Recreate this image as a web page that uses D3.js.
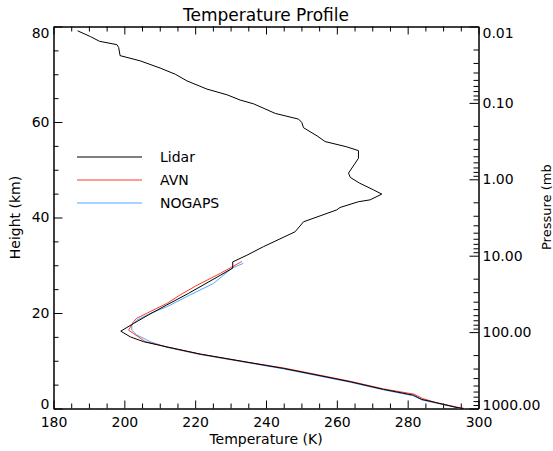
<!DOCTYPE html>
<html>
<head>
<meta charset="utf-8">
<script src="https://cdn.jsdelivr.net/npm/d3@7"></script>
<style>
  body { margin: 0; background: #fff; }
  svg text { font-family: "DejaVu Sans", sans-serif; fill: #000; }
</style>
</head>
<body>
<div id="chart"></div>
<script>
// temperature (K) vs height (km)
let lidarT = [186.8, 190.4, 193.0, 197.9, 198.4, 198.8, 204.5, 210.1, 214.4, 217.7, 223.3, 229.0, 232.7, 236.5, 242.6, 249.2, 250.1, 250.6, 254.4, 256.7, 262.8, 266.1, 266.1, 263.3, 263.8, 266.4, 270.3, 272.7, 269.4, 266.1, 260.9, 260.0, 250.6, 248.2, 239.3, 234.6, 230.6, 230.6, 227.1, 218.1, 212.0, 206.8, 202.6, 199.0, 201.7, 205.4, 212.0, 221.4, 235.5, 244.9, 254.4, 263.8, 273.2, 281.6, 284.0, 288.2, 293.9, 295.8]
let lidarH = [79.1, 77.9, 76.9, 76.2, 75.6, 73.9, 72.8, 71.3, 70.0, 68.6, 66.9, 65.7, 64.6, 63.8, 61.8, 60.6, 59.9, 58.8, 57.1, 55.9, 54.8, 54.0, 52.4, 49.3, 48.4, 47.2, 45.8, 44.9, 43.7, 43.3, 42.1, 41.6, 39.1, 37.0, 33.9, 32.1, 30.7, 29.4, 27.9, 24.1, 21.7, 19.6, 17.8, 16.2, 15.0, 14.0, 12.9, 11.4, 9.6, 8.4, 7.0, 5.6, 4.0, 2.8, 1.9, 1.2, 0.2, 0.0]

let avnT = [233.2, 227.1, 220.5, 215.8, 212.0, 207.3, 203.5, 202.6, 201.2, 202.6, 205.9, 212.0, 221.4, 235.5, 244.9, 254.4, 263.8, 273.2, 281.8, 284.2, 288.2, 293.9, 296.0]
let avnH = [30.8, 28.3, 25.8, 23.8, 22.0, 20.3, 18.9, 18.2, 16.4, 15.7, 14.0, 12.9, 11.4, 9.6, 8.5, 7.1, 5.7, 4.1, 3.0, 2.1, 1.2, 0.3, 0.0]

let nogapsT = [233.6, 230.4, 225.2, 218.6, 212.0, 207.3, 203.5, 202.1, 202.1, 203.5, 207.3, 212.0, 221.4, 235.5, 244.9, 254.4, 263.8, 273.2, 281.4, 284.0, 288.2, 293.9, 294.8]
let nogapsH = [30.4, 29.4, 26.2, 23.8, 21.3, 19.9, 18.5, 17.5, 16.4, 15.4, 14.0, 12.8, 11.3, 9.5, 8.3, 6.9, 5.5, 3.9, 2.7, 1.8, 1.1, 0.2, 0.0]

let seriesNames = ["Lidar", "AVN", "NOGAPS"]
let seriesColors = ["#000000", "#ff3a2a", "#4aaaff"]

let tempTicks = [180, 200, 220, 240, 260, 280, 300]
let heightTicks = [0, 20, 40, 60, 80]
let pressureTicks = [0.01, 0.1, 1, 10, 100, 1000]

let width = 553, height = 451
let margin = {top: 26.5, right: 74.5, bottom: 42.5, left: 53.5}
let w = width - margin.left - margin.right
let h = height - margin.top - margin.bottom

let svg = d3.select('#chart').append('svg')
    .attr('width', width)
    .attr('height', height)

let g = svg.append('g')
    .attr('transform', "translate(" + margin.left + "," + margin.top + ")")

let x = d3.scaleLinear().domain([180, 300]).range([0, w])
let y = d3.scaleLinear().domain([0, 80]).range([h, 0])
let p = d3.scaleLog().domain([0.01, 1000]).range([0, h])

let minorT = d3.range(180, 301, 5).filter(d => d % 20 != 0)
let minorH = d3.range(0, 81, 5).filter(d => d % 20 != 0)
let minorP = []
pressureTicks.slice(0, -1).forEach(d => {
    for (let k = 2; k <= 9; k++) minorP.push(d * k)
})

function style(sel, size) {
    sel.select('.domain').attr('stroke', '#000')
    sel.selectAll('.tick line').attr('stroke', '#000')
    sel.selectAll('.tick text').style('font-size', size + 'px').attr('fill', '#000')
    sel.attr('font-family', null)
}

// end labels sit inside the axis range, like the original
function clampEnds(sel, first, last) {
    sel.selectAll('.tick text').attr('dy', (d, i, n) => {
        if (i == 0) return first
        if (i == n.length - 1) return last
        return '0.32em'
    })
}

// bottom
g.append('g').attr('transform', "translate(0," + h + ")")
    .call(d3.axisBottom(x).tickValues(tempTicks).tickSizeInner(-8).tickSizeOuter(0).tickPadding(9).tickFormat(d3.format('d')))
    .call(style, 14)
g.append('g').attr('transform', "translate(0," + h + ")")
    .call(d3.axisBottom(x).tickValues(minorT).tickSizeInner(-5).tickSizeOuter(0).tickFormat(''))
    .call(style, 14)
// top
g.append('g')
    .call(d3.axisTop(x).tickValues(tempTicks).tickSizeInner(-8).tickSizeOuter(0).tickFormat(''))
    .call(style, 14)
g.append('g')
    .call(d3.axisTop(x).tickValues(minorT).tickSizeInner(-5).tickSizeOuter(0).tickFormat(''))
    .call(style, 14)
// left
g.append('g')
    .call(d3.axisLeft(y).tickValues(heightTicks).tickSizeInner(-9).tickSizeOuter(0).tickPadding(4).tickFormat(d3.format('d')))
    .call(style, 14)
    .call(clampEnds, '0.02em', '0.75em')
g.append('g')
    .call(d3.axisLeft(y).tickValues(minorH).tickSizeInner(-5).tickSizeOuter(0).tickFormat(''))
    .call(style, 14)
// right, pressure
g.append('g').attr('transform', "translate(" + w + ",0)")
    .call(d3.axisRight(p).tickValues(pressureTicks).tickSizeInner(-9).tickSizeOuter(0).tickPadding(4).tickFormat(d3.format('.2f')))
    .call(style, 14)
    .call(clampEnds, '0.75em', '0.1em')
g.append('g').attr('transform', "translate(" + w + ",0)")
    .call(d3.axisRight(p).tickValues(minorP).tickSizeInner(-5).tickSizeOuter(0).tickFormat(''))
    .call(style, 14)

let line = d3.line().x(d => x(d[0])).y(d => y(d[1]))

let series = [
    d3.zip(lidarT, lidarH),
    d3.zip(avnT, avnH),
    d3.zip(nogapsT, nogapsH)
]

// draw NOGAPS first, then AVN, Lidar on top
;[2, 1, 0].forEach(i => {
    g.append('path')
        .datum(series[i])
        .attr('fill', 'none')
        .attr('stroke', seriesColors[i])
        .attr('stroke-width', 1)
        .attr('d', line)
})

// legend
let legend = svg.append('g')
seriesNames.forEach((name, i) => {
    let ly = 157 + i * 23
    legend.append('line')
        .attr('x1', 77).attr('x2', 142)
        .attr('y1', ly).attr('y2', ly)
        .attr('stroke', seriesColors[i])
        .attr('stroke-width', 1)
    legend.append('text')
        .attr('x', 160).attr('y', ly + 5)
        .style('font-size', '14px')
        .text(name)
})

svg.append('text')
    .attr('x', margin.left + w / 2).attr('y', 21)
    .attr('text-anchor', 'middle')
    .style('font-size', '17px')
    .text('Temperature Profile')

svg.append('text')
    .attr('x', margin.left + w / 2).attr('y', 444)
    .attr('text-anchor', 'middle')
    .style('font-size', '14px')
    .text('Temperature (K)')

svg.append('text')
    .attr('transform', 'translate(20,' + (margin.top + h / 2) + ') rotate(-90)')
    .attr('text-anchor', 'middle')
    .style('font-size', '14px')
    .text('Height (km)')

svg.append('text')
    .attr('transform', 'translate(551,250) rotate(-90)')
    .attr('text-anchor', 'start')
    .style('font-size', '13px')
    .text('Pressure (mb')
</script>
</body>
</html>
